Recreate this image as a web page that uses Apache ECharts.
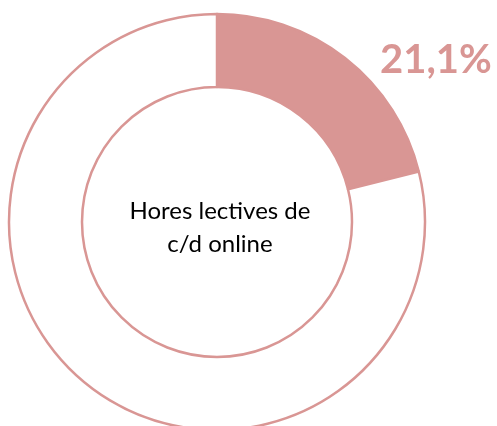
<!DOCTYPE html>
<html>
<head>
<meta charset="utf-8">
<style>
  html, body { margin: 0; padding: 0; background: #fff; }
  #chart { width: 497px; height: 426px; }
</style>
<script src="https://cdn.jsdelivr.net/npm/echarts@6/dist/echarts.min.js"></script>
</head>
<body>
<div id="chart"></div>
<script>
// dades
var categories = ['Online', 'Resta'];
var values = [21.1, 78.9];
var centerLabel = 'Hores lectives de\nc/d online';

var pink = '#d99694';
var chart = echarts.init(document.getElementById('chart'));

chart.setOption({
  animation: false,
  series: [{
    type: 'pie',
    center: [217, 222],
    radius: [135, 208],
    startAngle: 90,
    clockwise: true,
    silent: true,
    label: { show: false },
    labelLine: { show: false },
    itemStyle: { borderColor: pink, borderWidth: 2.5 },
    data: [
      { name: categories[0], value: values[0], itemStyle: { color: pink } },
      { name: categories[1], value: values[1], itemStyle: { color: '#ffffff' } }
    ]
  }],
  graphic: [
    {
      type: 'text',
      left: 380, top: 40,
      style: {
        text: values[0].toFixed(1).replace('.', ',') + '%',
        fill: pink,
        font: 'bold 40px Lato'
      }
    },
    {
      type: 'text',
      x: 220, y: 228,
      style: {
        text: centerLabel,
        fill: '#000',
        font: '24px Lato',
        align: 'center',
        verticalAlign: 'middle',
        lineHeight: 33
      }
    }
  ]
});
</script>
</body>
</html>
